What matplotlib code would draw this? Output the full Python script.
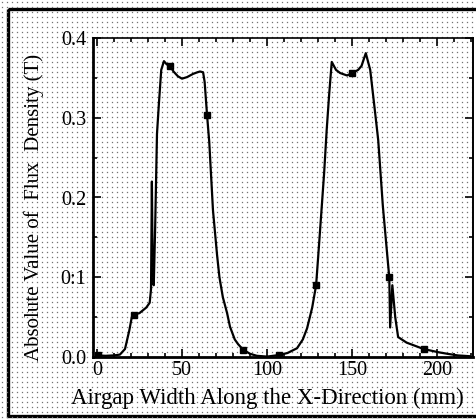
import numpy as np
import matplotlib
matplotlib.use("Agg")
import matplotlib.pyplot as plt
from matplotlib.ticker import MultipleLocator
from matplotlib.patches import Rectangle

# 読み取りデータ: 空隙幅 (mm) と 磁束密度の絶対値 (T)
x_mm = [0.5, 5, 10, 13.5, 16.5, 19, 20.5, 21.5, 25, 29, 31, 31.8, 32.3, 32.8, 33.4,
        34.2, 35.3, 36.5, 37.8, 39.4, 41, 43, 45, 47.6, 50, 53, 56.5, 59, 60.6, 62.4,
        63.3, 64.7, 66, 68.2, 70.6, 72, 74, 76.5, 78.2, 81, 83, 86, 90, 94, 100,
        107, 112, 117.6, 121, 123.5, 126.5, 128.8, 130, 132, 133.5, 135, 136.5, 138,
        140.5, 143, 147, 150, 153.5, 155.5, 158, 160.6, 163.5, 165.3, 168, 170.6,
        171.8, 172.3, 173.6, 175.3, 177, 182, 187, 192, 200.6, 206, 212, 219]
b_abs = [0.002, 0.0015, 0.002, 0.003, 0.01, 0.033, 0.05, 0.053, 0.055, 0.062, 0.068,
         0.085, 0.22, 0.10, 0.09, 0.16, 0.28, 0.32, 0.36, 0.371, 0.367, 0.365, 0.358,
         0.352, 0.349, 0.351, 0.355, 0.357, 0.358, 0.357, 0.345, 0.304, 0.27, 0.184,
         0.128, 0.1, 0.075, 0.055, 0.038, 0.022, 0.016, 0.009, 0.004, 0.0015, 0.0005,
         0.0025, 0.005, 0.011, 0.022, 0.036, 0.062, 0.09, 0.125, 0.185, 0.23, 0.284,
         0.33, 0.37, 0.36, 0.356, 0.353, 0.356, 0.36, 0.365, 0.381, 0.36, 0.306, 0.272,
         0.19, 0.128, 0.1, 0.037, 0.09, 0.05, 0.025, 0.018, 0.014, 0.01, 0.006, 0.004,
         0.002, 0.001]

# 測定点マーカー
mark_x = [0.5, 21.5, 43, 64.7, 86, 107, 128.8, 150, 171.8, 192]
mark_y = [0.002, 0.053, 0.365, 0.304, 0.009, 0.0025, 0.09, 0.356, 0.1, 0.01]

xticks = [0, 50, 100, 150, 200]
yticks = [0.0, 0.1, 0.2, 0.3, 0.4]
ytick_labels = ["0.0", "0:1", "0.2", "0.3", "0.4"]

W, H = 476, 419
fig = plt.figure(figsize=(W / 100, H / 100), dpi=100)
plt.rcParams["font.family"] = ["Liberation Serif", "DejaVu Serif"]

# 方眼紙風の背景（点線グリッド）
bg = fig.add_axes([0, 0, 1, 1], zorder=-2)
bg.set_xlim(0, W)
bg.set_ylim(H, 0)
bg.axis("off")
gx, gy = np.meshgrid(np.arange(2, W, 5.0), np.arange(2, H, 5.0))
bg.plot(gx.ravel(), gy.ravel(), ls="none", marker="s", ms=0.9, mew=0,
        color="0.45")
bg.add_patch(Rectangle((8, 9), 475, 407, fill=False, lw=2.4, ec="black"))

ax = fig.add_axes([93 / W, 1 - 357 / H, 380 / W, 319 / H])
ax.patch.set_alpha(0)
ax.plot(x_mm, b_abs, color="black", lw=1.6)
ax.plot(mark_x, mark_y, ls="none", marker="s", ms=5, color="black")

ax.set_xlim(-2.3, 221)
ax.set_ylim(0, 0.4)
ax.set_xticks(xticks)
ax.set_yticks(yticks)
ax.set_yticklabels(ytick_labels)
ax.xaxis.set_minor_locator(MultipleLocator(10))
ax.yaxis.set_minor_locator(MultipleLocator(0.05))
ax.tick_params(which="both", direction="in", top=True, right=True,
               labelsize=14.5, width=1.2)
ax.tick_params(which="major", length=6)
ax.tick_params(which="minor", length=3)
ax.tick_params(axis="y", pad=5)
ax.tick_params(axis="x", pad=3)
for side, lw in [("left", 2.0), ("bottom", 2.0), ("top", 1.2), ("right", 1.4)]:
    ax.spines[side].set_linewidth(lw)

fig.text(267 / W, 1 - 398 / H, "Airgap Width Along the X-Direction (mm)",
         ha="center", va="center", fontsize=16.5)
fig.text(34 / W, 1 - 207 / H, "Absolute Value of  Flux  Density (T)",
         ha="center", va="center", rotation=90, fontsize=15)

fig.savefig("out.png", dpi=100)
